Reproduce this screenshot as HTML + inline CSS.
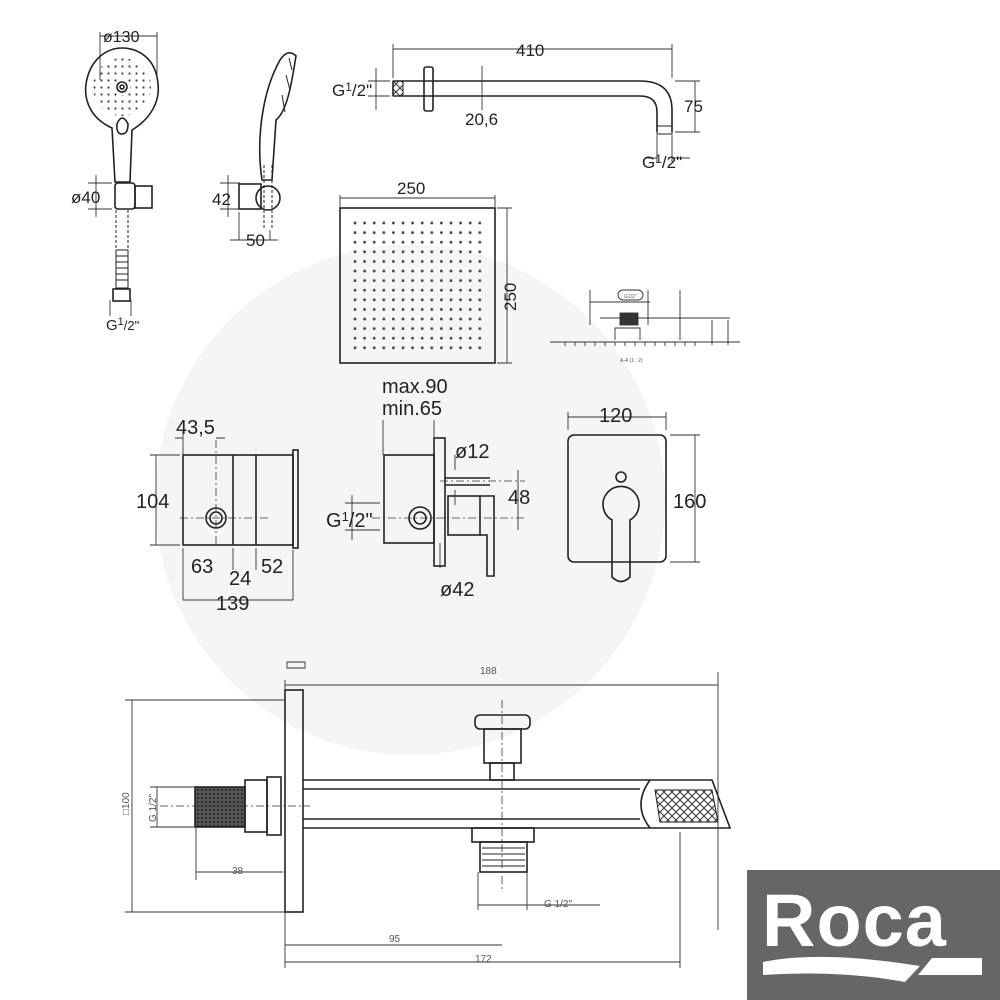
<!DOCTYPE html>
<html><head><meta charset="utf-8"><style>
html,body{margin:0;padding:0;background:#fff;}
svg{display:block;font-family:"Liberation Sans",sans-serif;}
</style></head><body>
<svg width="1000" height="1000" viewBox="0 0 1000 1000" xmlns="http://www.w3.org/2000/svg">
<defs>
<pattern id="dots" x="355" y="223" width="9.6" height="9.6" patternUnits="userSpaceOnUse">
<circle cx="0" cy="0" r="1.4" fill="#444"/><circle cx="9.6" cy="0" r="1.4" fill="#444"/><circle cx="0" cy="9.6" r="1.4" fill="#444"/><circle cx="9.6" cy="9.6" r="1.4" fill="#444"/>
</pattern>
<pattern id="hd" x="0" y="0" width="7" height="7" patternUnits="userSpaceOnUse">
<circle cx="3.5" cy="3.5" r="1.1" fill="#444"/>
</pattern>
<pattern id="thr" width="4" height="4" patternUnits="userSpaceOnUse"><rect width="4" height="4" fill="#555"/><circle cx="2" cy="2" r="1" fill="#222"/></pattern>
<pattern id="xh" width="8" height="8" patternUnits="userSpaceOnUse"><path d="M0 0L8 8M8 0L0 8" stroke="#333" stroke-width="1"/></pattern>
</defs>
<circle cx="410" cy="500" r="255" fill="#f5f5f5"/>

<g fill="none" stroke="#222" stroke-width="1.6">
<!-- hand shower front -->
<path d="M112 128 C90 118 84 100 86 84 C90 58 108 48 122 48 C138 48 156 58 158 84 C160 100 152 118 132 130 L130 182 L115 182 Z"/>
<circle cx="122" cy="87" r="29" fill="url(#hd)" stroke="none"/>
<circle cx="122" cy="87" r="8" fill="#fff" stroke="none"/>
<path d="M117 124 Q122 112 128 124 Q128 134 122 134 Q116 134 117 124Z"/>
<circle cx="122" cy="87" r="5"/><circle cx="122" cy="87" r="2"/>
<rect x="115" y="183" width="20" height="26" rx="3"/>
<rect x="135" y="186" width="17" height="22"/>
<path d="M116 210 L116 248 M128 210 L128 248" stroke-dasharray="3 2" stroke-width="1"/>
<path d="M116 250 L128 250 L128 288 L116 288Z" stroke-width="1"/>
<path d="M116 256 L128 256 M116 262 L128 262 M116 268 L128 268 M116 274 L128 274 M116 280 L128 280" stroke-width="1"/>
<rect x="113" y="289" width="17" height="12"/>
<!-- side -->
<path d="M262 180 C256 140 262 92 280 60 Q288 48 296 56 C292 80 288 110 276 120 L272 180 Z"/>
<path d="M289 58 L292 70 M286 75 L290 90 M282 95 L285 112" stroke-width="1"/>
<rect x="239" y="184" width="22" height="25"/>
<circle cx="268" cy="198" r="12"/>
<path d="M264 165 L264 230 M272 165 L272 230" stroke-dasharray="3 2" stroke-width="1"/>
<!-- arm -->
<path d="M393 81 L640 81 Q672 81 672 110 L672 132 M393 96 L640 96 Q657 96 657 112 L657 132 M393 81 L393 96"/>
<rect x="424" y="67" width="9" height="44" rx="2"/>
<rect x="393" y="81" width="10" height="15" fill="url(#xh)" stroke-width="1"/>
<rect x="657" y="126" width="15" height="8" stroke-width="1"/>
<!-- square shower -->
<rect x="340" y="208" width="155" height="155"/>
<rect x="352" y="220" width="132" height="132" fill="url(#dots)" stroke="none"/>
<!-- box -->
<rect x="183" y="455" width="110" height="90"/>
<rect x="293" y="450" width="5" height="98"/>
<path d="M233 455 L233 545 M256 455 L256 545"/>
<circle cx="216" cy="518" r="10"/><circle cx="216" cy="518" r="6"/>
<!-- valve side -->
<rect x="384" y="455" width="50" height="88"/>
<rect x="434" y="438" width="11" height="128"/>
<path d="M445 478 L490 478 M445 485 L490 485" />
<rect x="448" y="496" width="32" height="39"/>
<path d="M480 496 L494 496 L494 576 L487 576 L487 535 L480 535"/>
<circle cx="420" cy="518" r="11"/><circle cx="420" cy="518" r="6"/>
<!-- plate -->
<rect x="568" y="435" width="98" height="127" rx="6"/>
<circle cx="621" cy="477" r="5"/>
<path d="M612 520 A18 18 0 1 1 630 520 L630 577 Q621 586 612 577 Z"/>
<!-- bottom spout -->
<rect x="285" y="690" width="18" height="222"/>
<path d="M303 780 L712 780 L730 828 L303 828 M303 789 L640 789 M303 819 L640 819"/>
<path d="M650 780 Q632 805 650 828" />
<path d="M655 790 L712 790 L718 822 L660 822Z" fill="url(#xh)" stroke-width="1"/>
<rect x="195" y="787" width="50" height="40" fill="url(#thr)"/>
<rect x="245" y="780" width="22" height="52"/>
<rect x="267" y="777" width="14" height="58"/>
<rect x="475" y="715" width="55" height="14" rx="5"/>
<rect x="484" y="729" width="37" height="34"/>
<rect x="490" y="763" width="24" height="17"/>
<rect x="472" y="828" width="62" height="14"/>
<rect x="480" y="842" width="47" height="30"/>
<path d="M482 848 L525 848 M482 854 L525 854 M482 860 L525 860 M482 866 L525 866" stroke-width="1"/>
</g>

<g stroke="#333" stroke-width="0.8" fill="none" stroke-dasharray="8 3 2 3">
<path d="M180 518 L270 518 M216 440 L216 545 M372 518 L525 518 M440 481 L525 481 M502 700 L502 890 M160 806 L310 806"/>
</g>

<g stroke="#333" stroke-width="0.9" fill="none">
<path d="M100 32 L100 80 M157 32 L157 80 M100 36 L157 36"/>
<path d="M88 183 L112 183 M88 209 L112 209 M96 175 L96 217"/>
<path d="M220 183 L240 183 M220 209 L240 209 M228 175 L228 217"/>
<path d="M239 212 L239 240 M270 230 L270 240 M230 240 L278 240"/>
<path d="M110 300 L110 316 M131 300 L131 316"/>
<path d="M393 44 L393 78 M672 44 L672 78 M393 49 L672 49"/>
<path d="M368 81 L390 81 M368 96 L390 96 M376 68 L376 110"/>
<path d="M482 66 L482 110"/>
<path d="M675 81 L700 81 M675 132 L700 132 M695 81 L695 132"/>
<path d="M645 158 L657 158 M672 158 L690 158 M657 135 L657 162 M672 135 L672 162"/>
<path d="M340 198 L495 198 M340 195 L340 207 M495 195 L495 207"/>
<path d="M497 208 L512 208 M497 363 L512 363 M507 208 L507 363"/>
<path d="M175 438 L183 438 M216 438 L225 438 M183 430 L183 455"/>
<path d="M150 455 L180 455 M150 545 L180 545 M156 455 L156 545"/>
<path d="M183 548 L183 600 M293 550 L293 600 M183 600 L293 600 M233 548 L233 570 M256 548 L256 570"/>
<path d="M383 420 L383 455 M434 420 L434 438"/>
<path d="M345 503 L380 503 M345 530 L380 530 M352 495 L352 540"/>
<path d="M518 470 L518 530 M455 455 L455 470 M455 490 L455 505"/>
<path d="M568 412 L568 430 M666 412 L666 430 M568 417 L666 417"/>
<path d="M670 435 L700 435 M670 562 L700 562 M695 435 L695 562"/>
<path d="M440 543 L440 568"/>
<path d="M550 342 L740 342 M590 290 L590 325 M648 290 L648 325 M590 302 L650 302 M600 318 L730 318 M680 290 L680 340 M712 320 L712 345 M728 320 L728 345"/>
<path d="M565 342 L565 346 M575 342 L575 346 M585 342 L585 346 M595 342 L595 346 M605 342 L605 346 M615 342 L615 346 M625 342 L625 346 M635 342 L635 346 M645 342 L645 346 M655 342 L655 346 M665 342 L665 346 M675 342 L675 346 M685 342 L685 346 M695 342 L695 346"/>
<path d="M615 340 L615 328 L640 328 L640 340"/>
<rect x="618" y="290" width="25" height="10" rx="5"/>
<rect x="620" y="313" width="18" height="12" fill="#333"/>
<path d="M285 680 L285 690 M718 672 L718 930 M285 685 L718 685"/>
<path d="M125 700 L285 700 M125 912 L285 912 M132 700 L132 912"/>
<path d="M150 787 L195 787 M150 827 L195 827 M157 787 L157 827"/>
<path d="M196 828 L196 880 M196 872 L283 872"/>
<path d="M478 872 L478 910 M527 872 L527 910 M478 905 L600 905"/>
<path d="M285 912 L285 968 M285 945 L502 945 M285 962 L680 962 M680 832 L680 968"/>
<path d="M287 662 L305 662 L305 668 L287 668Z"/>
</g>

<g fill="#222" font-size="17">
<text x="103" y="42" font-size="16">ø130</text>
<text x="71" y="203">ø40</text>
<text x="212" y="205">42</text>
<text x="246" y="246">50</text>
<text x="106" y="330" font-size="15">G<tspan font-size="11" dy="-5">1</tspan><tspan font-size="13" dy="5">/2"</tspan></text>
<text x="516" y="56">410</text>
<text x="332" y="96">G<tspan font-size="12" dy="-5">1</tspan><tspan dy="5">/2"</tspan></text>
<text x="465" y="125">20,6</text>
<text x="684" y="112">75</text>
<text x="642" y="168">G<tspan font-size="12" dy="-5">1</tspan><tspan dy="5">/2"</tspan></text>
<text x="397" y="194">250</text>
<text x="0" y="0" transform="translate(516 311) rotate(-90)">250</text>
<g font-size="20">
<text x="176" y="434">43,5</text>
<text x="136" y="508">104</text>
<text x="191" y="573">63</text>
<text x="229" y="585">24</text>
<text x="261" y="573">52</text>
<text x="216" y="610">139</text>
<text x="382" y="393">max.90</text>
<text x="382" y="415">min.65</text>
<text x="455" y="458">ø12</text>
<text x="508" y="504">48</text>
<text x="326" y="527">G<tspan font-size="13" dy="-6">1</tspan><tspan dy="6">/2"</tspan></text>
<text x="440" y="596">ø42</text>
<text x="599" y="422">120</text>
<text x="673" y="508">160</text>
</g>
</g>
<g fill="#555" font-size="10">
<text x="480" y="674">188</text>
<text x="0" y="0" transform="translate(129 815) rotate(-90)">□100</text>
<text x="0" y="0" transform="translate(156 822) rotate(-90)">G 1/2"</text>
<text x="232" y="874">38</text>
<text x="544" y="907">G 1/2"</text>
<text x="389" y="942">95</text>
<text x="475" y="962">172</text>
<text x="620" y="362" font-size="5">A-A (1 : 2)</text>
<text x="624" y="298" font-size="5">G1/2"</text>
</g>

<rect x="747" y="870" width="253" height="130" fill="#666"/>
<text x="762" y="946" fill="#fff" font-size="74" font-weight="bold" letter-spacing="1">Roca</text>
<path d="M763 962 Q820 950 920 966 L905 982 Q840 970 763 975 Z" fill="#fff"/>
<path d="M932 958 L982 958 L982 975 L918 975 Z" fill="#fff"/>
</svg>
</body></html>
